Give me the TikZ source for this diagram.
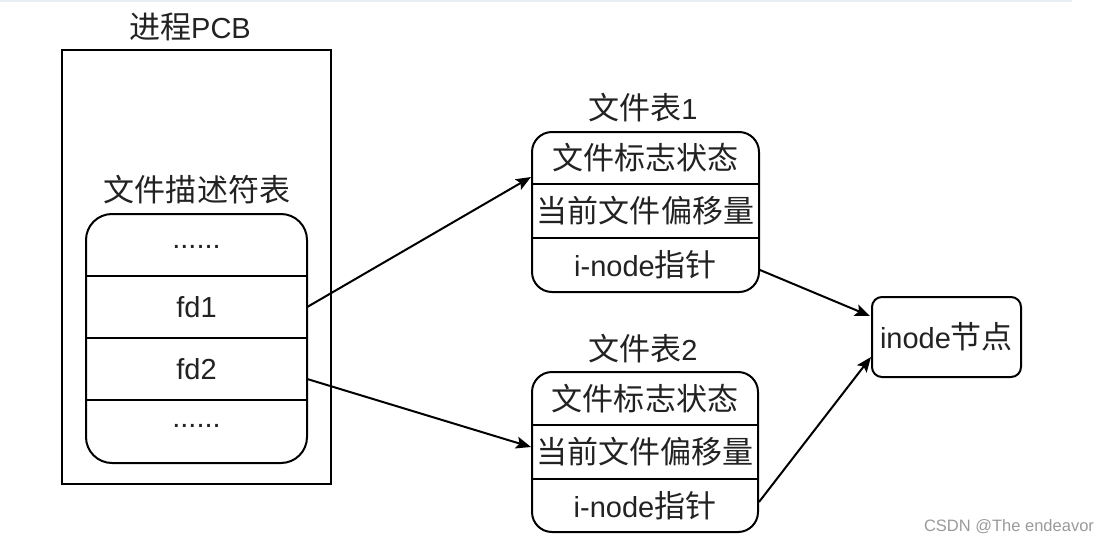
\documentclass[tikz,border=0pt]{standalone}
\usepackage{fontspec}
\setmainfont{Liberation Sans}
\newfontfamily\cjk[Scale=1.07]{Noto Sans CJK SC}
\usetikzlibrary{arrows.meta,calc}
\definecolor{wmgray}{HTML}{9A9A9A}
\definecolor{stripc}{HTML}{E9EEF4}
\definecolor{txtc}{HTML}{222222}
\tikzset{
  txt/.style={font=\fontsize{29}{34}\selectfont, inner sep=0pt, text=txtc},
  outerbox/.style={draw, line width=2pt, inner sep=0pt},
  tablebox/.style={draw, line width=2pt, rounded corners=#1, inner sep=0pt},
  row/.style={inner sep=0pt, font=\fontsize{29}{34}\selectfont, text=txtc},
  sep/.style={line width=2pt},
  conn/.style={line width=2pt, -{Stealth[length=15pt,width=12pt,inset=3pt]}},
}
\begin{document}
\begin{tikzpicture}[x=1pt,y=-1pt]
\useasboundingbox (0,0) rectangle (1111,543);
\fill[stripc] (0,0) rectangle (1072,2);
% process PCB
\node[outerbox, minimum width=269pt, minimum height=434pt] (pcb) at (196.5,267) {};
\node[txt] (pcbt) at (190,27) {{\cjk 进程}PCB};
\node[txt] (dtt) at (197,190) {\cjk 文件描述符表};
\node[tablebox=26pt, minimum width=221pt, minimum height=249pt] (dt) at (196.5,338.5) {};
\node[row, minimum width=221pt, minimum height=62pt] (d0) at (196.5,245) {};
\node[row, minimum width=221pt, minimum height=62pt] (fd1) at (196.5,307) {fd1};
\node[row, minimum width=221pt, minimum height=62pt] (fd2) at (196.5,369) {fd2};
\node[row, minimum width=221pt, minimum height=62pt] (d3) at (196.5,431.5) {};
\node[txt] (dots1) at (196.5,247) {......};
\node[txt] (dots2) at (196.5,426) {......};
\draw[sep] (fd1.north west) -- (fd1.north east);
\draw[sep] (fd2.north west) -- (fd2.north east);
\draw[sep] (fd2.south west) -- (fd2.south east);
% file table 1
\node[txt] (ft1t) at (643,108) {{\cjk 文件表}1};
\node[tablebox=20pt, minimum width=227pt, minimum height=160pt] (ft1) at (645.5,212) {};
\node[row, minimum width=225pt, minimum height=52pt] (ft1a) at (645.5,158) {\cjk 文件标志状态};
\node[row, minimum width=225pt, minimum height=54pt] (ft1b) at (645.5,211) {\cjk 当前文件偏移量};
\node[row, minimum width=225pt, minimum height=54pt] (ft1c) at (645.5,265) {i-node{\cjk 指针}};
\draw[sep] (ft1b.north west) -- (ft1b.north east);
\draw[sep] (ft1c.north west) -- (ft1c.north east);
% file table 2
\node[txt] (ft2t) at (643,349) {{\cjk 文件表}2};
\node[tablebox=20pt, minimum width=226pt, minimum height=160pt] (ft2) at (645,452) {};
\node[row, minimum width=224pt, minimum height=53pt] (ft2a) at (645,398.5) {\cjk 文件标志状态};
\node[row, minimum width=224pt, minimum height=54pt] (ft2b) at (645,452) {\cjk 当前文件偏移量};
\node[row, minimum width=224pt, minimum height=53pt] (ft2c) at (645,505.5) {i-node{\cjk 指针}};
\draw[sep] (ft2b.north west) -- (ft2b.north east);
\draw[sep] (ft2c.north west) -- (ft2c.north east);
% inode
\node[tablebox=10pt, minimum width=149pt, minimum height=80pt, font=\fontsize{29}{34}\selectfont, text=txtc] (inode) at (946.5,337) {inode{\cjk 节点}};
% connectors
\draw[conn] (fd1.east) -- ($(ft1.west)+(0,-35)$);
\draw[conn] ($(fd2.east)+(0,10)$) -- ($(ft2.west)+(0,-5)$);
\draw[conn] ($(ft1.east)+(0,58)$) -- ($(inode.west)+(-1,-21)$);
\draw[conn] ($(ft2.east)+(0,50)$) -- ($(inode.west)+(0,20)$);
% watermark
\node[inner sep=0pt, text=wmgray, font=\fontsize{16.5}{19}\selectfont] (wm) at (1009,527) {CSDN @The endeavor};
\end{tikzpicture}
\end{document}
